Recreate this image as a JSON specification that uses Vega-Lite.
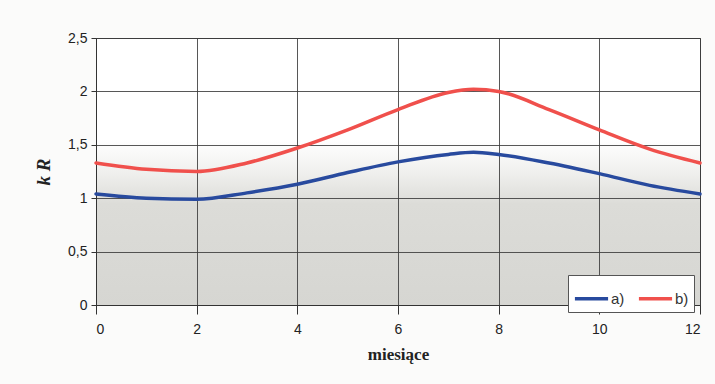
{
  "$schema": "https://vega.github.io/schema/vega-lite/v6.json",
  "width": 604,
  "height": 267,
  "autosize": {"type": "none"},
  "padding": {"left": 96, "top": 38, "right": 15, "bottom": 79},
  "background": "#fbfbfa",
  "config": {
    "view": {
      "stroke": "#555555",
      "strokeWidth": 1,
      "fill": {
        "gradient": "linear",
        "x1": 0, "y1": 0, "x2": 0, "y2": 1,
        "stops": [
          {"offset": 0, "color": "#ffffff"},
          {"offset": 0.38, "color": "#ffffff"},
          {"offset": 0.5, "color": "#f0f0ee"},
          {"offset": 0.62, "color": "#dcdcd8"},
          {"offset": 1, "color": "#d6d6d2"}
        ]
      }
    },
    "axis": {
      "labelFont": "Liberation Sans",
      "labelFontSize": 14,
      "labelColor": "#222222",
      "gridColor": "#3a3a3a",
      "gridWidth": 1,
      "gridOpacity": 0.85,
      "domainColor": "#333333",
      "tickColor": "#333333"
    }
  },
  "data": {"values": [
      {"month": 0, "kR": 1.04, "series": "a)"},
      {"month": 1, "kR": 1.0, "series": "a)"},
      {"month": 2, "kR": 0.99, "series": "a)"},
      {"month": 3, "kR": 1.05, "series": "a)"},
      {"month": 4, "kR": 1.13, "series": "a)"},
      {"month": 5, "kR": 1.24, "series": "a)"},
      {"month": 6, "kR": 1.34, "series": "a)"},
      {"month": 7, "kR": 1.41, "series": "a)"},
      {"month": 7.5, "kR": 1.43, "series": "a)"},
      {"month": 8, "kR": 1.41, "series": "a)"},
      {"month": 9, "kR": 1.33, "series": "a)"},
      {"month": 10, "kR": 1.23, "series": "a)"},
      {"month": 11, "kR": 1.12, "series": "a)"},
      {"month": 12, "kR": 1.04, "series": "a)"},
      {"month": 0, "kR": 1.33, "series": "b)"},
      {"month": 1, "kR": 1.27, "series": "b)"},
      {"month": 2, "kR": 1.25, "series": "b)"},
      {"month": 3, "kR": 1.33, "series": "b)"},
      {"month": 4, "kR": 1.47, "series": "b)"},
      {"month": 5, "kR": 1.64, "series": "b)"},
      {"month": 6, "kR": 1.83, "series": "b)"},
      {"month": 7, "kR": 1.99, "series": "b)"},
      {"month": 7.5, "kR": 2.02, "series": "b)"},
      {"month": 8, "kR": 2.0, "series": "b)"},
      {"month": 9, "kR": 1.83, "series": "b)"},
      {"month": 10, "kR": 1.64, "series": "b)"},
      {"month": 11, "kR": 1.46, "series": "b)"},
      {"month": 12, "kR": 1.33, "series": "b)"}
  ]},
  "mark": {"type": "line", "interpolate": "monotone", "strokeWidth": 3.5, "strokeCap": "round"},
  "encoding": {
    "x": {
      "field": "month",
      "type": "quantitative",
      "scale": {"domain": [0, 12], "nice": false},
      "axis": {
        "values": [0, 2, 4, 6, 8, 10, 12],
        "tickSize": 9,
        "labelPadding": 8,
        "title": "miesiące",
        "titleFont": "Liberation Serif",
        "titleFontSize": 17,
        "titleFontWeight": "bold",
        "titleColor": "#222222",
        "titlePadding": 10
      }
    },
    "y": {
      "field": "kR",
      "type": "quantitative",
      "scale": {"domain": [0, 2.5], "nice": false},
      "axis": {
        "values": [0, 0.5, 1, 1.5, 2, 2.5],
        "labelExpr": "replace(toString(datum.value), '.', ',')",
        "tickSize": 5,
        "labelPadding": 4,
        "title": "k R",
        "titleFont": "Liberation Serif",
        "titleFontSize": 19,
        "titleFontStyle": "italic",
        "titleFontWeight": "bold",
        "titleColor": "#222222",
        "titlePadding": 14
      }
    },
    "color": {
      "field": "series",
      "type": "nominal",
      "scale": {"domain": ["a)", "b)"], "range": ["#284a9e", "#f0504c"]},
      "legend": {
        "title": null,
        "orient": "none",
        "legendX": 472,
        "legendY": 237,
        "direction": "horizontal",
        "symbolType": "stroke",
        "symbolStrokeWidth": 3.5,
        "symbolSize": 1100,
        "labelFont": "Liberation Sans",
        "labelFontSize": 15,
        "labelColor": "#333333",
        "columnPadding": 6,
        "labelOffset": 1,
        "padding": 5,
        "strokeColor": "#555555",
        "fillColor": "#ffffff"
      }
    }
  }
}
